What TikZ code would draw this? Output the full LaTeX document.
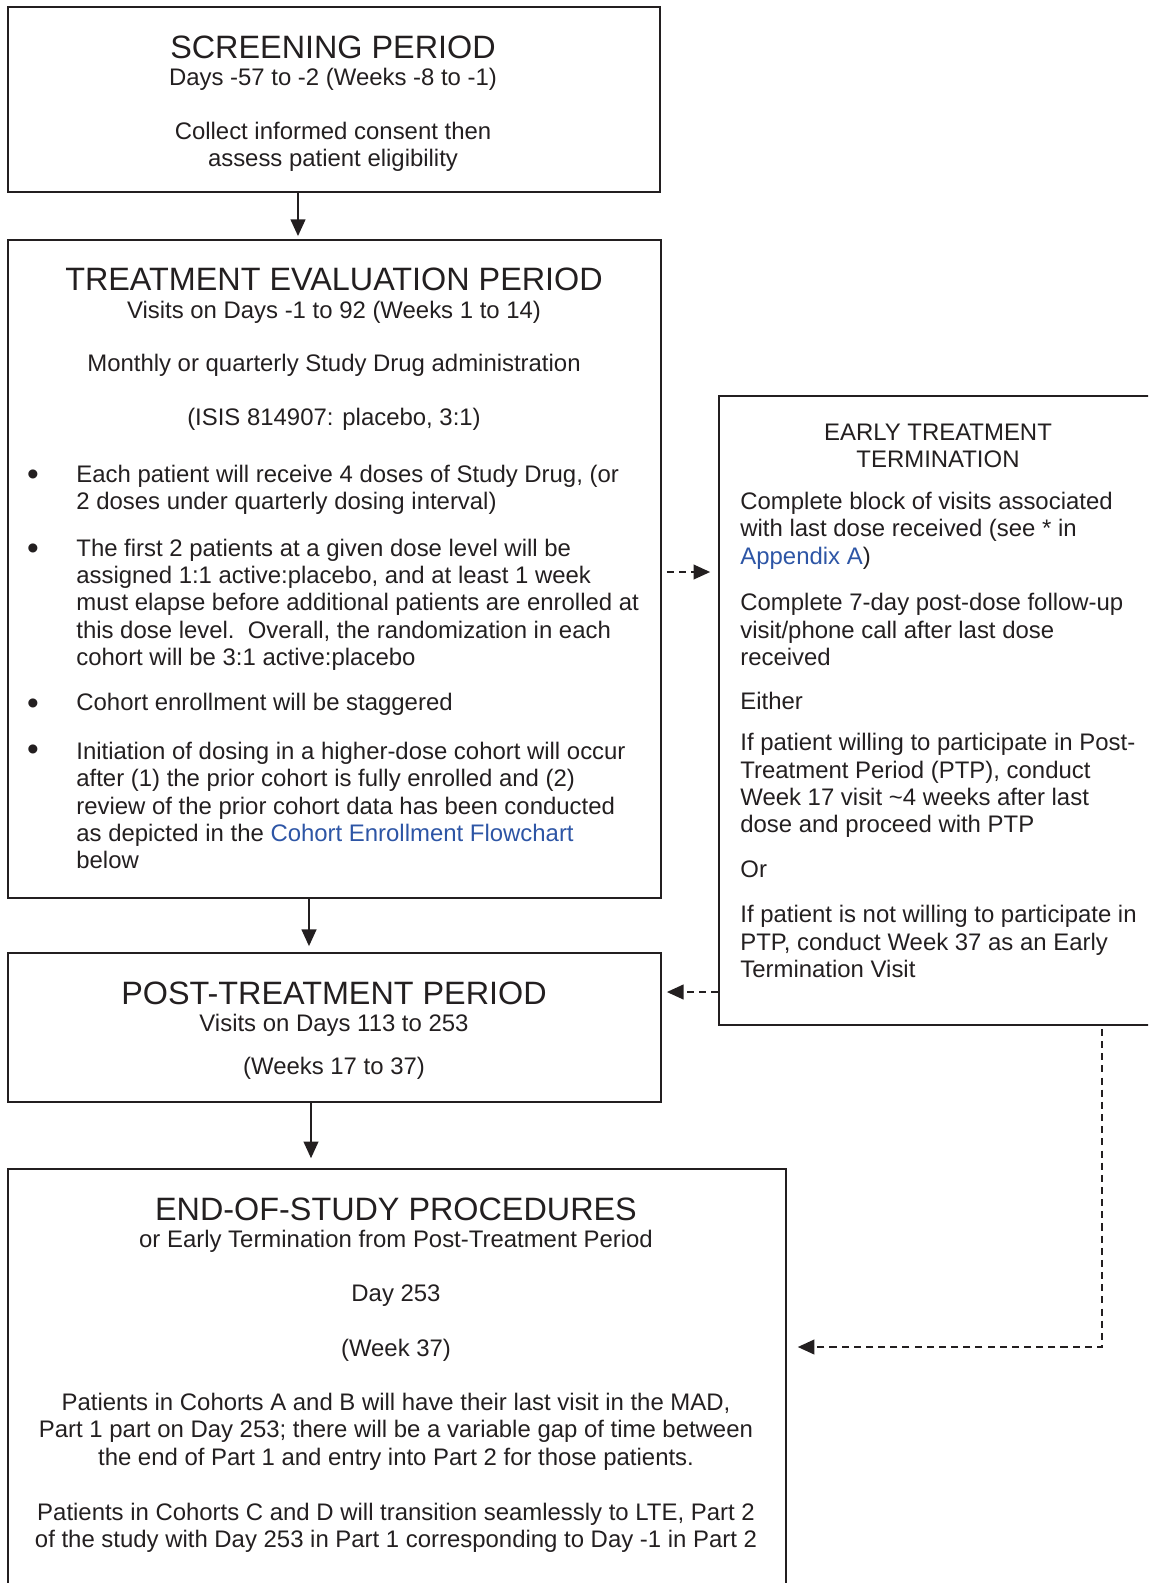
\documentclass[tikz,border=0pt]{standalone}
\usepackage{fontspec}
\setmainfont{Liberation Sans}
\usetikzlibrary{arrows.meta,fit}
\definecolor{ink}{RGB}{35,31,32}
\definecolor{linkblue}{RGB}{45,85,165}
\newcommand{\bodyfont}{\fontsize{12.2}{13.9}\selectfont}
\newcommand{\headfont}{\fontsize{16.5}{18}\selectfont}
\begin{document}
\begin{tikzpicture}[x=0.51pt,y=-0.51pt,
  box/.style={draw=ink, line width=1pt, inner sep=0pt},
  head/.style={font=\headfont, text=ink, inner sep=0pt, yshift=-1.3pt},
  txt/.style={font=\bodyfont, text=ink, inner sep=0pt, align=center, yshift=-1.3pt},
  ltxt/.style={font=\bodyfont, text=ink, inner sep=0pt, align=left, anchor=west, yshift=-1.3pt},
  dot/.style={font=\fontsize{17}{17}\selectfont, text=ink, inner sep=0pt, yshift=-2.6pt},
  arr/.style={draw=ink, line width=1pt, -{Triangle[length=8.5pt,width=7.5pt]}},
  darr/.style={draw=ink, line width=1pt, dash pattern=on 3.6pt off 2.6pt, -{Triangle[length=8.5pt,width=7.5pt]}}]
\useasboundingbox (0,0) rectangle (1148,1583);
\clip (0,0) rectangle (1148,1583);

% boxes
\node[box, fit={(8,7) (660,192)}] (screen) {};
\node[box, fit={(8,240) (661,898)}] (treat) {};
\node[box, fit={(8,953) (661,1102)}] (post) {};
\node[box, fit={(8,1169) (786,1620)}] (eos) {};
\node[box, fit={(719,396) (1170,1025)}] (early) {};

% screening
\node[head] (screentitle) at (333,45) {SCREENING PERIOD};
\node[txt] (screendays) at (333,77) {Days -57 to -2 (Weeks -8 to -1)};
\node[txt] (screenconsent) at (333,144) {Collect informed consent then\\assess patient eligibility};

% treatment evaluation
\node[head] (treattitle) at (334,277) {TREATMENT EVALUATION PERIOD};
\node[txt] (treatvisits) at (334,310) {Visits on Days -1 to 92 (Weeks 1 to 14)};
\node[txt] (treatdrug) at (334,363) {Monthly or quarterly Study Drug administration};
\node[txt] (treatratio) at (334,417) {(ISIS 814907: placebo, 3:1)};
\node[dot] (bulleta) at (33,473) {\textbullet};
\node[ltxt] (itema) at (76,487) {Each patient will receive 4 doses of Study Drug, (or\\2 doses under quarterly dosing interval)};
\node[dot] (bulletb) at (33,547) {\textbullet};
\node[ltxt] (itemb) at (76,602) {The first 2 patients at a given dose level will be\\assigned 1:1 active:placebo, and at least 1 week\\must elapse before additional patients are enrolled at\\this dose level.\ \ Overall, the randomization in each\\cohort will be 3:1 active:placebo};
\node[dot] (bulletc) at (33,702) {\textbullet};
\node[ltxt] (itemc) at (76,702) {Cohort enrollment will be staggered};
\node[dot] (bulletd) at (33,748) {\textbullet};
\node[ltxt] (itemd) at (76,803) {Initiation of dosing in a higher-dose cohort will occur\\after (1) the prior cohort is fully enrolled and (2)\\review of the prior cohort data has been conducted\\as depicted in the \textcolor{linkblue}{Cohort Enrollment Flowchart}\\below};

% early termination
\node[txt] (earlytitle) at (938,443) {EARLY TREATMENT\\TERMINATION};
\node[ltxt] (earlyblock) at (740,528) {Complete block of visits associated\\with last dose received (see * in\\\textcolor{linkblue}{Appendix A})};
\node[ltxt] (earlyfollow) at (740,627) {Complete 7-day post-dose follow-up\\visit/phone call after last dose\\received};
\node[ltxt] (earlyeither) at (740,698) {Either};
\node[ltxt] (earlyptp) at (740,783) {If patient willing to participate in Post-\\Treatment Period (PTP), conduct\\Week 17 visit \textasciitilde 4 weeks after last\\dose and proceed with PTP};
\node[ltxt] (earlyor) at (740,867) {Or};
\node[ltxt] (earlynoptp) at (740,939) {If patient is not willing to participate in\\PTP, conduct Week 37 as an Early\\Termination Visit};

% post-treatment
\node[head] (posttitle) at (334,991) {POST-TREATMENT PERIOD};
\node[txt] (postvisits) at (334,1023) {Visits on Days 113 to 253};
\node[txt] (postweeks) at (334,1066) {(Weeks 17 to 37)};

% end of study
\node[head] (eostitle) at (396,1207) {END-OF-STUDY PROCEDURES};
\node[txt] (eosearly) at (396,1239) {or Early Termination from Post-Treatment Period};
\node[txt] (eosday) at (396,1293) {Day 253};
\node[txt] (eosweek) at (396,1348) {(Week 37)};
\node[txt] (eosab) at (396,1429) {Patients in Cohorts A and B will have their last visit in the MAD,\\Part 1 part on Day 253; there will be a variable gap of time between\\the end of Part 1 and entry into Part 2 for those patients.};
\node[txt] (eoscd) at (396,1525) {Patients in Cohorts C and D will transition seamlessly to LTE, Part 2\\of the study with Day 253 in Part 1 corresponding to Day -1 in Part 2};

% connectors
\coordinate (xa) at (298,0);
\coordinate (xb) at (309,0);
\coordinate (xc) at (311,0);
\coordinate (xd) at (1102,0);
\coordinate (ya) at (0,572);
\coordinate (yb) at (0,992);
\coordinate (yc) at (0,1347);
\draw[arr, shorten >=1.5pt] (screen.south -| xa) -- (treat.north -| xa);
\draw[arr, shorten >=3pt] (treat.south -| xb) -- (post.north -| xb);
\draw[arr, shorten >=5pt] (post.south -| xc) -- (eos.north -| xc);
\draw[darr, shorten <=2.5pt, shorten >=4pt] (treat.east |- ya) -- (early.west |- ya);
\draw[darr, shorten >=2.5pt] (early.west |- yb) -- (post.east |- yb);
\draw[darr, shorten <=1.5pt, shorten >=5.5pt] (early.south -| xd) |- (eos.east |- yc);
\end{tikzpicture}
\end{document}
